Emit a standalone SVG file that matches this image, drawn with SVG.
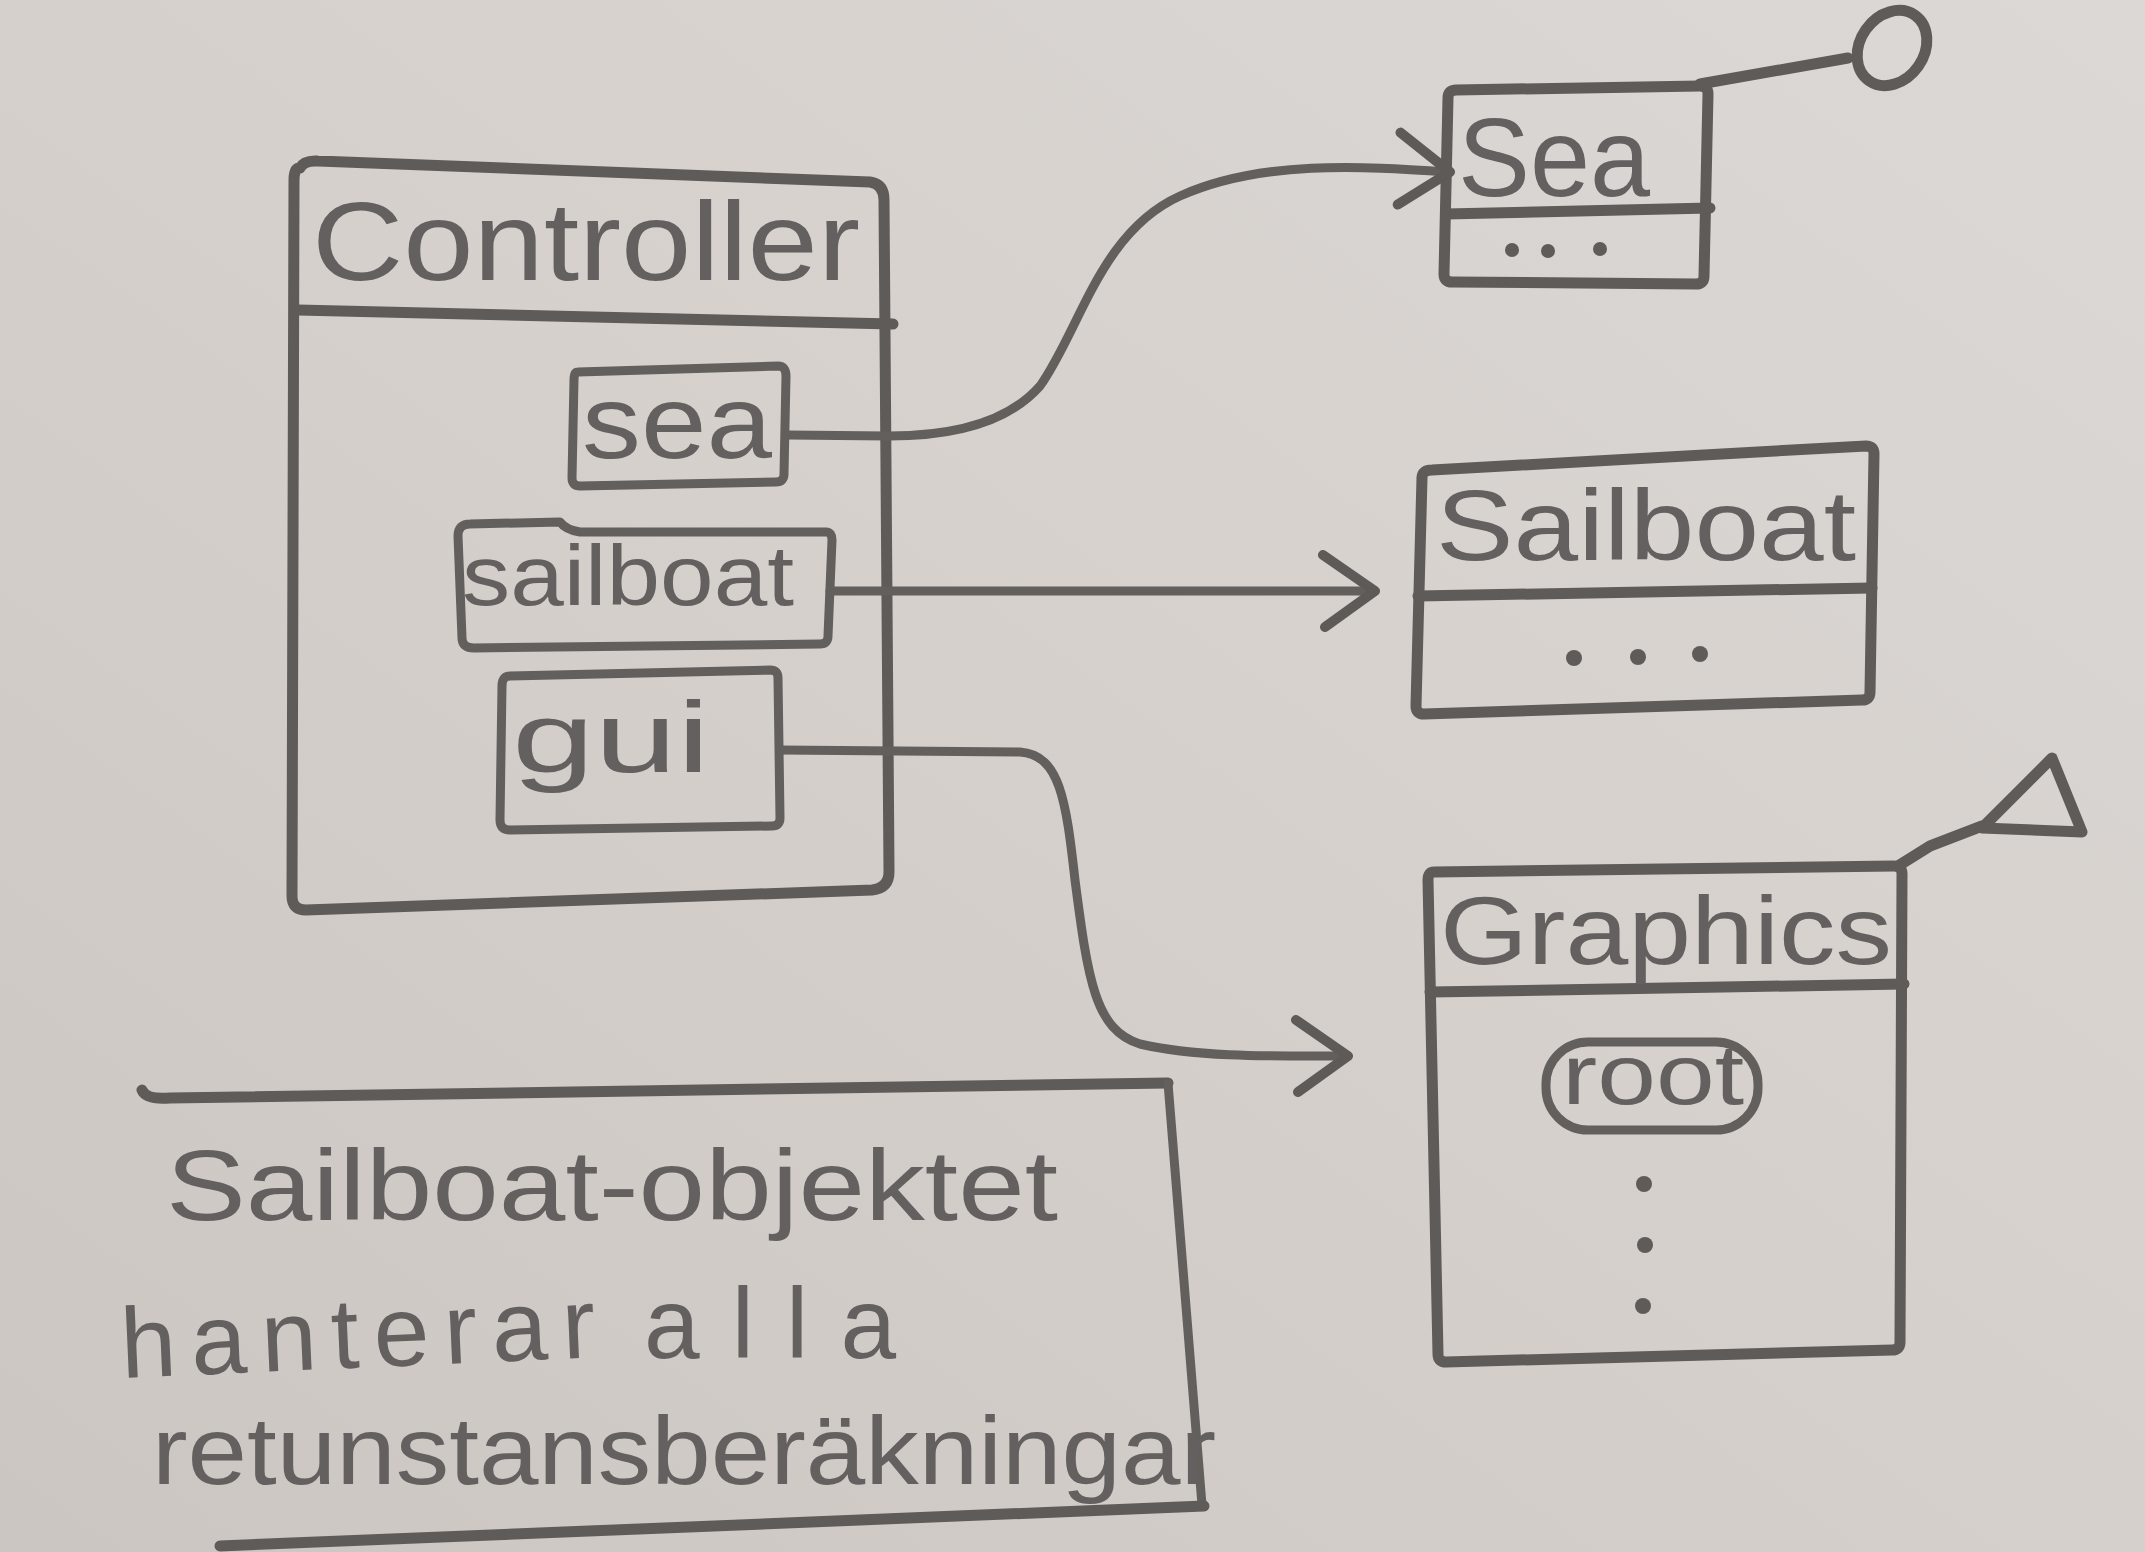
<svg xmlns="http://www.w3.org/2000/svg" width="2145" height="1552" viewBox="0 0 2145 1552">
<defs>
<linearGradient id="paper" x1="1" y1="0" x2="0" y2="1">
<stop offset="0" stop-color="#dcd8d5"/>
<stop offset="0.5" stop-color="#d5d0cc"/>
<stop offset="1" stop-color="#cbc6c2"/>
</linearGradient>
<marker id="vhead" viewBox="0 0 64 84" refX="58" refY="42" markerWidth="64" markerHeight="84" markerUnits="userSpaceOnUse" orient="auto">
<path d="M6,6 L58,42 L8,78" fill="none" stroke="#5d5a58" stroke-width="10" stroke-linecap="round" stroke-linejoin="round"/>
</marker>
<style>
.pen{fill:none;stroke:#5f5b59;stroke-width:11;stroke-linecap:round;stroke-linejoin:round}
.thin{fill:none;stroke:#635f5d;stroke-width:9;stroke-linecap:round;stroke-linejoin:round}
.hw{font-family:"Liberation Sans","DejaVu Sans",sans-serif;fill:#646060}
.dot{fill:#5f5b59}
</style>
</defs>
<rect x="0" y="0" width="2145" height="1552" fill="url(#paper)"/>

<g id="controller">
<path class="pen" d="M300,168 Q304,160 318,161 L870,182 Q884,184 884,200 L889,872 Q889,888 872,890 L306,910 Q292,910 292,896 L294,180 Q294,168 300,168 Z"/>
<path class="pen" d="M298,310 L893,324"/>
<text class="hw" x="312" y="280" font-size="112" textLength="548" lengthAdjust="spacingAndGlyphs">Controller</text>
</g>

<g id="field-sea">
<path class="thin" d="M578,372 L778,366 Q786,366 786,376 L784,474 Q784,482 776,482 L580,486 Q572,486 572,478 L574,380 Q574,372 578,372 Z"/>
<text class="hw" x="582" y="458" font-size="104" textLength="190" lengthAdjust="spacingAndGlyphs">sea</text>
</g>

<g id="field-sailboat">
<path class="thin" d="M470,524 L560,522 Q566,530 580,532 L826,532 Q832,532 832,540 L828,636 Q828,644 820,644 L474,648 Q462,648 462,638 L458,536 Q458,524 470,524 Z"/>
<text class="hw" x="462" y="605" font-size="86" textLength="332" lengthAdjust="spacingAndGlyphs">sailboat</text>
</g>

<g id="field-gui">
<path class="thin" d="M510,676 L770,670 Q778,670 778,678 L780,818 Q780,826 772,826 L510,830 Q500,830 500,820 L502,686 Q502,676 510,676 Z"/>
<text class="hw" x="512" y="772" font-size="100" textLength="198" lengthAdjust="spacingAndGlyphs">gui</text>
</g>

<g id="sea-class">
<path class="pen" d="M1456,90 L1700,86 Q1708,86 1708,94 L1704,276 Q1704,284 1696,284 L1452,282 Q1444,282 1444,274 L1448,98 Q1448,90 1456,90 Z"/>
<path class="pen" d="M1446,214 L1710,208"/>
<text class="hw" x="1458" y="196" font-size="112" textLength="192" lengthAdjust="spacingAndGlyphs">Sea</text>
<circle class="dot" cx="1512" cy="250" r="7"/>
<circle class="dot" cx="1548" cy="251" r="7"/>
<circle class="dot" cx="1600" cy="249" r="7"/>
</g>

<g id="sailboat-class">
<path class="pen" d="M1432,470 L1866,446 Q1874,446 1874,454 L1870,692 Q1870,700 1862,700 L1424,714 Q1416,714 1416,706 L1422,478 Q1422,470 1432,470 Z"/>
<path class="pen" d="M1418,596 L1872,588"/>
<text class="hw" x="1436" y="560" font-size="100" textLength="420" lengthAdjust="spacingAndGlyphs">Sailboat</text>
<circle class="dot" cx="1574" cy="658" r="8"/>
<circle class="dot" cx="1638" cy="657" r="8"/>
<circle class="dot" cx="1700" cy="654" r="8"/>
</g>

<g id="graphics-class">
<path class="pen" d="M1434,872 L1894,866 Q1902,866 1902,874 L1900,1342 Q1900,1350 1892,1350 L1446,1362 Q1438,1362 1438,1354 L1428,880 Q1428,872 1434,872 Z"/>
<path class="pen" d="M1430,992 L1904,984"/>
<text class="hw" x="1440" y="964" font-size="96" textLength="452" lengthAdjust="spacingAndGlyphs">Graphics</text>
<g id="field-root">
<rect class="thin" x="1546" y="1042" width="212" height="88" rx="42" ry="42"/>
<text class="hw" x="1562" y="1104" font-size="86" textLength="182" lengthAdjust="spacingAndGlyphs">root</text>
</g>
<circle class="dot" cx="1644" cy="1184" r="8"/>
<circle class="dot" cx="1645" cy="1245" r="8"/>
<circle class="dot" cx="1643" cy="1306" r="8"/>
</g>

<g id="note">
<path class="pen" d="M142,1090 Q146,1100 170,1098 L1168,1083"/>
<path class="thin" d="M1168,1083 L1202,1505"/>
<path class="pen" d="M220,1546 L1204,1506"/>
<text class="hw" x="166" y="1220" font-size="100" textLength="892" lengthAdjust="spacingAndGlyphs">Sailboat-objektet</text>
<text class="hw" x="122" y="1378" font-size="100" textLength="475" lengthAdjust="spacing" transform="rotate(-2.5 122 1378)">hanterar</text>
<text class="hw" x="644" y="1358" font-size="100" textLength="252" lengthAdjust="spacing">alla</text>
<text class="hw" x="152" y="1484" font-size="96" textLength="1064" lengthAdjust="spacingAndGlyphs">retunstansberäkningar</text>
</g>

<g id="connectors">
<path class="thin" marker-end="url(#vhead)" d="M787,435 L889,436 C960,436 1010,420 1040,386 C1080,330 1100,232 1180,196 C1260,160 1360,166 1450,172"/>
<path class="thin" marker-end="url(#vhead)" d="M830,591 L1375,591"/>
<path class="thin" marker-end="url(#vhead)" d="M780,750 L1020,752 C1060,755 1066,800 1075,880 C1088,980 1095,1030 1140,1044 C1200,1058 1280,1056 1348,1056"/>
<path class="pen" stroke-width="15" d="M1700,84 L1848,58"/>
<ellipse class="pen" cx="1892" cy="48" rx="32" ry="40" transform="rotate(35 1892 48)"/>
<path class="pen" d="M1898,866 L1930,846 L1982,826"/>
<path class="pen" d="M1982,828 L2052,758 L2082,832 Z"/>
</g>
</svg>
